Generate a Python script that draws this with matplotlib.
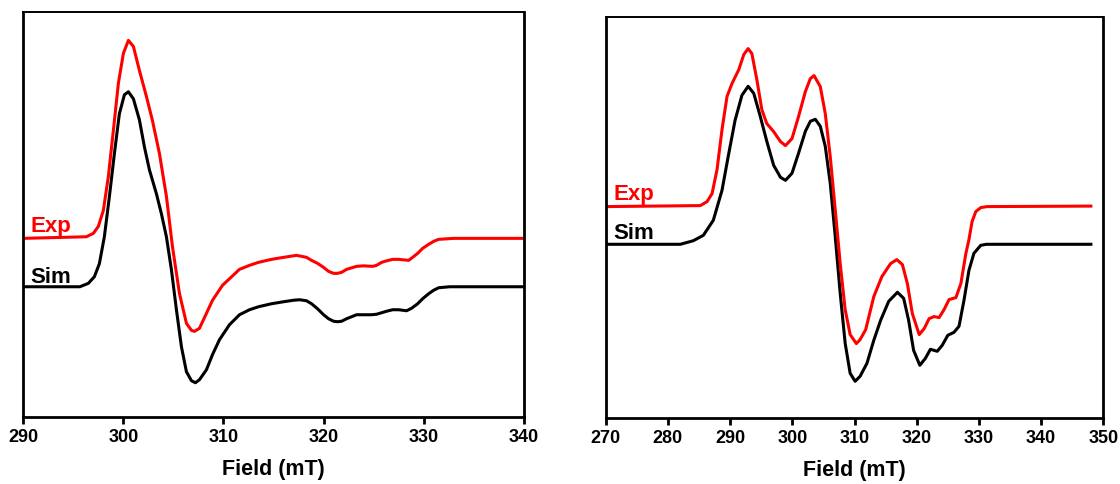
import matplotlib
matplotlib.use('Agg')
import matplotlib.pyplot as plt
import numpy as np

plt.rcParams['font.family'] = ['Liberation Sans', 'DejaVu Sans']
plt.rcParams['font.weight'] = 'bold'

# left spectrum (field in mT, intensity in arbitrary units, baseline = 0)
field_a_sim = [290, 295.65, 296.5, 297.1, 297.6, 298.1, 298.6, 299.1, 299.6, 300.1, 300.5,
               301.0, 301.6, 302.1, 302.6, 303.3, 303.8, 304.3, 304.8, 305.3, 305.8, 306.3,
               306.8, 307.2, 307.6, 308.3, 308.9, 309.6, 310.6, 311.6, 312.6, 313.5, 314.8,
               316.0, 317.0, 317.6, 318.3, 318.8, 319.4, 320.0, 320.5, 321.0, 321.4, 321.8,
               322.3, 322.8, 323.3, 324.0, 324.8, 325.3, 325.8, 326.3, 326.9, 327.5, 328.3,
               328.8, 329.4, 329.9, 330.5, 331.0, 331.5, 332.6, 340]
int_a_sim = [0, 0, 3.4, 10, 23, 50, 90, 133, 173, 192, 195,
             188, 167, 140, 117, 93, 73, 50, 17, -23, -60, -85,
             -94, -96, -93, -83, -68, -53, -38, -28, -23, -20, -17,
             -15, -13.5, -13, -14, -17, -22, -28, -32, -34.5, -35, -34.5,
             -32, -30, -28, -28, -28, -27.5, -26, -24.5, -23, -23, -24,
             -21.5, -17, -12, -7, -3.5, -1, 0, 0]
field_a_exp = [290, 296.3, 297.0, 297.5, 298.0, 298.5, 299.0, 299.5, 300.0, 300.5, 301.0,
               301.6, 302.3, 302.9, 303.6, 304.3, 304.9, 305.6, 306.3, 306.8, 307.1, 307.6,
               308.3, 308.9, 309.9, 311.6, 312.6, 313.5, 314.8, 316.0, 317.3, 318.3, 318.8,
               319.4, 320.0, 320.5, 321.0, 321.4, 321.8, 322.3, 322.8, 323.3, 324.0, 324.9,
               325.3, 325.8, 326.3, 326.9, 327.5, 328.5, 328.9, 329.4, 329.9, 330.5, 331.0,
               331.5, 333, 340]
int_a_exp = [0, 1.6, 5, 12, 28, 62, 108, 155, 185, 198, 192,
             168, 142, 118, 85, 42, -8, -55, -85, -92, -93, -90,
             -75, -62, -47, -31, -27, -24, -21, -19, -17, -19, -22,
             -25, -29, -33, -35, -35, -34, -31, -29.5, -28, -27.5, -28,
             -27, -24, -22.5, -21, -21, -22, -19, -15, -10, -6, -3,
             -1, 0, 0]

# right spectrum
field_b_sim = [270, 282.0, 284.1, 285.7, 287.3, 288.7, 289.7, 290.8, 291.9, 292.9, 293.8,
               294.8, 295.9, 297.0, 298.1, 298.9, 299.95, 301.0, 302.1, 302.9, 303.7, 304.5,
               305.3, 306.1, 306.9, 307.7, 308.5, 309.3, 310.1, 310.9, 312.0, 313.1, 314.2,
               315.5, 316.9, 317.9, 318.7, 319.5, 320.5, 321.4, 322.2, 323.3, 324.1, 325.0,
               326.0, 326.8, 327.6, 328.4, 329.2, 330.3, 331.2, 348]
int_b_sim = [0, 0, 3.6, 9, 24, 54, 88, 124, 149, 158, 151,
             129, 103, 79, 67, 64, 71, 91, 113, 123, 125, 118,
             98, 61, 8, -49, -99, -129, -137, -132, -119, -96, -76,
             -57, -48, -54, -76, -106, -121, -114, -105, -107, -101, -91,
             -88, -82, -56, -26, -9, -1, 0, 0]
field_b_exp = [270, 285.2, 286.3, 287.1, 287.9, 288.7, 289.5, 290.3, 291.4, 292.2, 292.9,
               293.5, 294.3, 295.1, 295.9, 297.0, 298.1, 298.9, 299.95, 301.0, 302.1, 302.9,
               303.5, 304.5, 305.3, 306.1, 306.9, 307.7, 308.5, 309.3, 310.3, 310.9, 311.8,
               313.1, 314.4, 315.8, 316.8, 317.7, 318.5, 319.3, 320.4, 321.2, 322.0, 322.8,
               323.6, 324.4, 325.2, 326.3, 327.1, 327.9, 328.4, 328.9, 329.5, 330.3, 331.3,
               348]
int_b_exp = [0, 1, 5, 13, 37, 77, 110, 123, 137, 152, 158,
             153, 127, 97, 83, 75, 65, 61, 68, 90, 115, 128,
             131, 120, 93, 50, -3, -57, -103, -128, -137, -133, -123,
             -90, -70, -57, -53, -58, -77, -107, -128, -122, -112, -110,
             -111, -103, -93, -91, -77, -47, -33, -15, -5, -1, 0,
             0.5]

fig = plt.figure(figsize=(11.2, 4.84), dpi=100)
ax1 = fig.add_axes([0.0208, 0.139, 0.4468, 0.836])
ax2 = fig.add_axes([0.5408, 0.137, 0.4443, 0.8285])

def style(ax, xmin, xmax, ylo, yhi):
    ax.set_xlim(xmin, xmax)
    ax.set_ylim(ylo, yhi)
    ax.set_xticks(np.arange(xmin, xmax + 1, 10))
    ax.set_yticks([])
    for s in ax.spines.values():
        s.set_linewidth(2)
    ax.spines['top'].set_linewidth(1.4)
    ax.tick_params(axis='x', direction='out', length=5, width=2, labelsize=13, pad=4)
    for lab in ax.get_xticklabels():
        lab.set_fontweight('bold')
    ax.set_xlabel('Field (mT)', fontsize=15.5, fontweight='bold', labelpad=9)

# left panel: Exp shifted up
off_a = 48.4
ax1.plot(field_a_sim, int_a_sim, color='black', lw=2.2, solid_joinstyle='round')
ax1.plot(field_a_exp, np.array(int_a_exp) + off_a, color='red', lw=2.2, solid_joinstyle='round')
style(ax1, 290, 340, -130, 274.7)
ax1.text(290.7, 54.7, 'Exp', color='red', fontsize=16, fontweight='bold', va='baseline')
ax1.text(290.7, 3.7, 'Sim', color='black', fontsize=16, fontweight='bold', va='baseline')

# right panel
off_b = 37.7
ax2.plot(field_b_sim, int_b_sim, color='black', lw=2.2, solid_joinstyle='round')
ax2.plot(field_b_exp, np.array(int_b_exp) + off_b, color='red', lw=2.2, solid_joinstyle='round')
style(ax2, 270, 350, -173.4, 227.6)
ax2.text(271.3, 44.3, 'Exp', color='red', fontsize=16, fontweight='bold', va='baseline')
ax2.text(271.3, 5.3, 'Sim', color='black', fontsize=16, fontweight='bold', va='baseline')

fig.savefig('out.png', dpi=100)
